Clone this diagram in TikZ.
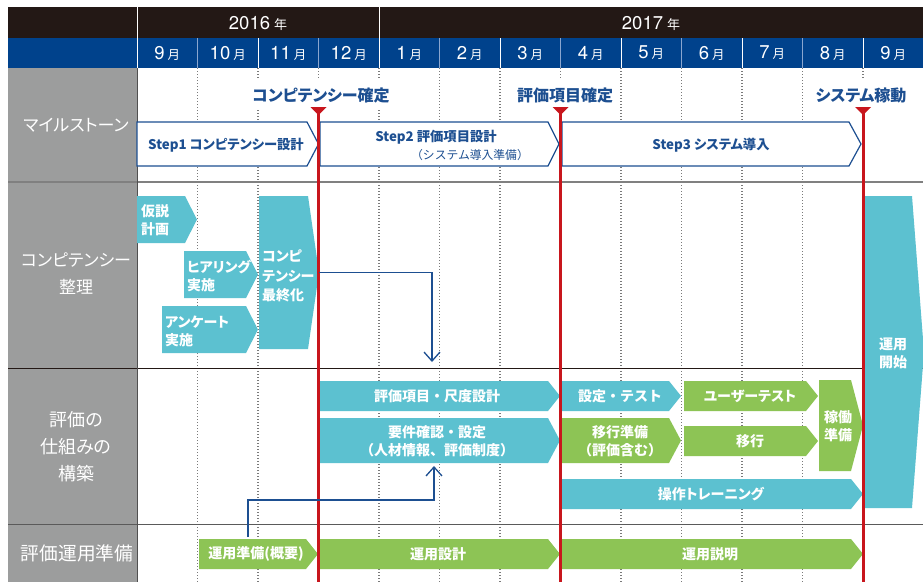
\documentclass[tikz,border=0pt]{standalone}
\usepackage{fontspec}
\setmainfont{Noto Sans CJK JP}[RawFeature=+palt]
\newfontfamily\jpf{Noto Sans CJK JP}
\newfontfamily\hv{TeX Gyre Heros}
\usetikzlibrary{arrows.meta}
\definecolor{hdark}{HTML}{231815}
\definecolor{mblue}{HTML}{00428C}
\definecolor{sblue}{HTML}{1D4F91}
\definecolor{gcol}{HTML}{9C9D9D}
\definecolor{cyanb}{HTML}{5CC1D0}
\definecolor{greenb}{HTML}{8DC455}
\definecolor{redl}{HTML}{C8161D}
\definecolor{dotgray}{HTML}{7A7A7A}
\definecolor{sepblue}{HTML}{8AA6CF}
\definecolor{line1}{HTML}{808080}
\definecolor{line3}{HTML}{5A5A5A}
\definecolor{line4}{HTML}{505050}
\newcommand\tipbox[7]{%
  \fill[#7] (#2,#3) -- (#4,#3) -- (#5,{(#3+#6)/2}) -- (#4,#6) -- (#2,#6) -- cycle;
  \coordinate (#1) at (#5,{(#3+#6)/2});}
\newcommand\mon[1]{{\hv\fontsize{18.5}{18.5}\selectfont #1}\hspace{3pt}{\fontsize{12.5}{12.5}\selectfont 月}}
\tikzset{
  lbl/.style={text=white, font=\fontsize{17}{27}\selectfont, align=center, inner sep=0pt},
  lblk/.style={lbl, font=\fontsize{18}{27}\selectfont},
  bt/.style={text=white, font=\bfseries\fontsize{14}{18}\selectfont, align=center, inner sep=0pt},
  btf/.style={bt, font=\jpf\bfseries\fontsize{14}{18}\selectfont},
  btl/.style={bt, align=left, anchor=west},
  ms/.style={text=sblue, font=\bfseries\fontsize{16}{18}\selectfont, fill=white, inner xsep=5pt, inner ysep=7pt},
  st/.style={text=sblue, font=\bfseries\fontsize{13.3}{15}\selectfont, inner sep=0pt},
  stepline/.style={draw=sblue, line width=1.2pt, fill=white},
  dots/.style={draw=dotgray, line width=1.2pt, dash pattern=on 1.2pt off 1.8pt},
  conn/.style={draw=sblue, line width=1.3pt, -{Straight Barb[length=9pt,width=16pt]}},
  hd/.style={text=white, inner sep=0pt},
}
\begin{document}
\begin{tikzpicture}[x=1pt,y=-1pt]
\useasboundingbox (0,0) rectangle (923,582);
\fill[white] (0,0) rectangle (923,582);
% header
\fill[hdark] (8,7) rectangle (923,38);
\fill[mblue] (8,38) rectangle (923,68);
\fill[gcol] (8,68) rectangle (137,582);
\draw[white, line width=1pt] (137,7) -- (137,68);
\draw[white, line width=1pt] (379,7) -- (379,38);
\foreach \i in {1,...,12} {
  \pgfmathsetmacro\xx{137+60.5*\i}
  \pgfmathtruncatemacro\odd{mod(\i,2)}
  \ifnum\odd=1 \draw[sepblue, line width=1pt] (\xx,38) -- (\xx,68);
  \else \draw[white, line width=1pt] (\xx,38) -- (\xx,68); \fi
}
\node[hd] (y16) at (258,23) {{\hv\fontsize{18.5}{18.5}\selectfont 2016}\hspace{4pt}{\fontsize{13}{13}\selectfont 年}};
\node[hd] (y17) at (651,23) {{\hv\fontsize{18.5}{18.5}\selectfont 2017}\hspace{4pt}{\fontsize{13}{13}\selectfont 年}};
\foreach \m [count=\i from 0] in {9,10,11,12,1,2,3,4,5,6,7,8,9} {
  \node[hd] (m\i) at ({167.25+60.5*\i},53) {\mon{\m}};
}
% dotted month lines
\foreach \i in {1,...,12} {
  \draw[dots] ({137+60.5*\i},68) -- ({137+60.5*\i},582);
}
% row lines
\draw[line1, line width=1.2pt] (8,182) -- (923,182);
\draw[hdark, line width=1pt] (8,368) -- (923,368);
\draw[line3, line width=1pt] (8,524) -- (923,524);
\draw[line4, line width=0.8pt] (137,68) -- (137,582);
% left labels
\node[lbl] (l1) at (76,125) {マイルストーン};
\node[lbl] (l2) at (76,274) {コンピテンシー\\整理};
\node[lblk] (l3) at (76,447) {評価の\\仕組みの\\構築};
\node[lblk, font=\fontsize{18.7}{27}\selectfont] (l4) at (77,553) {評価運用準備};
% milestones
\node[ms] (ms1) at (321,95) {コンピテンシー確定};
\node[ms] (ms2) at (565,95) {評価項目確定};
\node[ms] (ms3) at (861,95) {システム稼動};
% step boxes
\draw[stepline] (137,122) -- (307,122) -- (318.5,144) -- (307,166) -- (137,166) -- cycle;
\draw[stepline] (320,122) -- (548,122) -- (559,144) -- (548,166) -- (320,166) -- cycle;
\draw[stepline] (562,122) -- (849,122) -- (861,144) -- (849,166) -- (562,166) -- cycle;
\node[st] (s1) at (226,145) {Step1 コンピテンシー設計};
\node[st] (s2) at (436,137) {Step2 評価項目設計};
\node[text=sblue, font=\jpf\fontsize{11.8}{14}\selectfont, inner sep=0pt] (s2b) at (470,155) {（システム導入準備）};
\node[st] (s3) at (711,145) {Step3 システム導入};
% competency row
\tipbox{kas-t}{137}{196}{185}{197}{243}{cyanb}
\node[btl] (kas) at (141,220) {仮説\\計画};
\tipbox{hea-t}{184}{251}{246}{258}{298}{cyanb}
\node[btl] (hea) at (187,276) {ヒアリング\\実施};
\tipbox{enq-t}{162}{306}{246}{258}{353}{cyanb}
\node[btl] (enq) at (165,331) {アンケート\\実施};
\tipbox{fin-t}{259}{196}{308}{319}{349}{cyanb}
\node[btl, font=\bfseries\fontsize{14}{19.5}\selectfont] (fin) at (262,276) {コンピ\\テンシー\\最終化};
\tipbox{kai-t}{865}{196}{912}{924}{508}{cyanb}
\node[bt] (kai) at (893,353) {運用\\開始};
% evaluation row
\tipbox{hyo-t}{320}{381}{548}{560}{411}{cyanb}
\node[btf] (hyo) at (437,396) {評価項目・尺度設計};
\tipbox{yok-t}{320}{418}{548}{560}{463}{cyanb}
\node[btf] (yok) at (437,441) {要件確認・設定\\（人材情報、評価制度）};
\tipbox{set-t}{562}{381}{669}{681}{411}{cyanb}
\node[btf] (set) at (620,396) {設定・テスト};
\tipbox{ikj-t}{562}{418}{669}{681}{463}{greenb}
\node[btf] (ikj) at (620,441) {移行準備\\（評価含む）};
\tipbox{usr-t}{684}{381}{806}{818}{411}{greenb}
\node[bt] (usr) at (750,396) {ユーザーテスト};
\tipbox{iko-t}{684}{426}{806}{818}{456}{greenb}
\node[bt] (iko) at (750,441) {移行};
\tipbox{kad-t}{819}{380}{851}{863}{471}{greenb}
\node[bt] (kad) at (838,426) {稼働\\準備};
\tipbox{trn-t}{562}{479}{851}{863}{509}{cyanb}
\node[bt] (trn) at (711,494) {操作トレーニング};
% bottom row
\tipbox{uj-t}{199}{539}{306}{318}{569}{greenb}
\node[bt] (uj) at (256,554) {運用準備(概要)};
\tipbox{us-t}{320}{539}{548}{560}{569}{greenb}
\node[bt] (us) at (438,554) {運用設計};
\tipbox{um-t}{562}{539}{851}{863}{569}{greenb}
\node[bt] (um) at (710,554) {運用説明};
% red milestone lines
\foreach \xx in {318.5,560.5,863} {
  \draw[redl, line width=3pt] (\xx,108) -- (\xx,582);
  \fill[redl] (\xx-8,107) -- (\xx+8,107) -- (\xx,115) -- cycle;
}
% connectors
\coordinate (a1e) at (432,362);
\draw[conn] (fin-t) -| (a1e);
\coordinate (a2s) at (248,537);
\coordinate (a2k) at (434,500);
\coordinate (a2e) at (434,466);
\draw[conn] (a2s) |- (a2k) -- (a2e);
\end{tikzpicture}
\end{document}
